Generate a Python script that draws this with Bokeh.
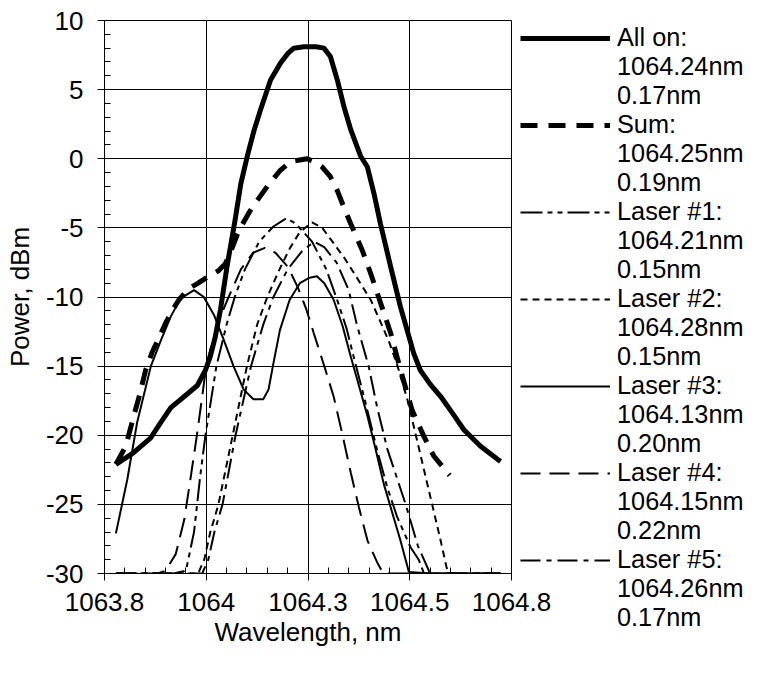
from bokeh.plotting import figure
from bokeh.models import FixedTicker, Legend, LegendItem, Range1d
from bokeh.embed import file_html
from bokeh.resources import INLINE

# ---------------- data ----------------
all_on_x = [1063.828, 1063.87, 1063.913, 1063.94, 1063.963, 1063.996, 1064.028, 1064.048, 1064.060,
            1064.072, 1064.085, 1064.101, 1064.121, 1064.135, 1064.151, 1064.167, 1064.183, 1064.208,
            1064.232, 1064.250, 1064.265, 1064.290, 1064.320, 1064.339, 1064.355, 1064.372, 1064.388,
            1064.405, 1064.429, 1064.446, 1064.462, 1064.478, 1064.503, 1064.527, 1064.560, 1064.576,
            1064.600, 1064.626, 1064.655, 1064.683, 1064.724, 1064.773]
all_on_y = [-22.1, -21.3, -20.2, -19.0, -18.0, -17.2, -16.4, -15.3, -14.3,
            -12.9, -10.9, -7.8, -4.4, -1.8, 0.2, 2.0, 3.5, 5.7,
            6.9, 7.6, 8.0, 8.1, 8.1, 8.0, 7.4, 5.7, 3.8,
            2.1, 0.2, -0.6, -2.5, -4.7, -7.8, -10.7, -14.1, -15.3,
            -16.3, -17.2, -18.4, -19.6, -20.8, -21.9]

sum_x = [1063.828, 1063.852, 1063.872, 1063.887, 1063.901, 1063.917, 1063.933, 1063.950, 1063.968,
         1063.983, 1064.007, 1064.030, 1064.056, 1064.080, 1064.097, 1064.113, 1064.130, 1064.155,
         1064.178, 1064.200, 1064.230, 1064.257, 1064.298, 1064.315, 1064.335, 1064.355, 1064.372,
         1064.388, 1064.405, 1064.433, 1064.454, 1064.478, 1064.503, 1064.523, 1064.544, 1064.556,
         1064.585, 1064.609, 1064.648]
sum_y = [-22.1, -20.8, -18.6, -17.0, -15.3, -14.0, -13.0, -11.9, -10.9,
         -10.2, -9.4, -9.0, -8.5, -8.1, -7.6, -6.5, -5.2, -3.9,
         -2.9, -2.0, -0.9, -0.2, 0.0, -0.2, -0.6, -1.3, -2.3,
         -3.5, -4.7, -6.6, -8.3, -10.4, -12.6, -14.8, -17.0, -18.2,
         -20.1, -21.5, -22.9]

laser1_x = [1063.828, 1063.97, 1064.0, 1064.02, 1064.035, 1064.048, 1064.075, 1064.1, 1064.12, 1064.145,
            1064.18, 1064.215, 1064.247, 1064.27, 1064.31, 1064.345, 1064.375, 1064.395, 1064.412,
            1064.44, 1064.47, 1064.495, 1064.519, 1064.552, 1064.572, 1064.585, 1064.773]
laser1_y = [-30, -30, -29.8, -27.0, -23.0, -20.0, -15.0, -12.0, -10.0, -8.0,
            -6.0, -4.9, -4.3, -4.7, -6.0, -8.0, -10.5, -12.3, -14.3,
            -17.5, -21.1, -23.8, -25.9, -28.1, -29.0, -30, -30]

laser2_x = [1063.828, 1064.03, 1064.045, 1064.06, 1064.08, 1064.115, 1064.15, 1064.175, 1064.2, 1064.23,
            1064.255, 1064.28, 1064.31, 1064.335, 1064.36, 1064.39, 1064.42, 1064.454, 1064.478, 1064.5,
            1064.52, 1064.545, 1064.565, 1064.585, 1064.605, 1064.625, 1064.64, 1064.645, 1064.773]
laser2_y = [-30, -30, -29.0, -27.0, -25.0, -20.0, -15.0, -12.0, -10.0, -8.0,
            -6.5, -5.3, -4.6, -5.0, -6.0, -7.2, -8.6, -10.2, -11.8, -13.3,
            -15.0, -17.5, -20.0, -22.5, -25.0, -27.5, -29.5, -30, -30]

laser3_x = [1063.828, 1063.856, 1063.880, 1063.914, 1063.939, 1063.963, 1063.987, 1064.02, 1064.044,
            1064.069, 1064.093, 1064.117, 1064.142, 1064.166, 1064.19, 1064.203, 1064.215, 1064.231,
            1064.255, 1064.28, 1064.304, 1064.322, 1064.34, 1064.363, 1064.385, 1064.405, 1064.425,
            1064.446, 1064.466, 1064.486, 1064.507, 1064.527, 1064.548, 1064.6, 1064.773]
laser3_y = [-27.1, -23.2, -19.1, -15.0, -13.1, -11.4, -10.1, -9.5, -10.0,
            -11.3, -13.1, -15.0, -16.7, -17.4, -17.4, -16.7, -14.8, -12.4,
            -10.2, -9.0, -8.6, -8.5, -9.0, -10.2, -12.1, -14.3, -16.4,
            -18.6, -21.0, -23.5, -25.6, -27.6, -29.9, -30, -30]

laser4_x = [1063.828, 1063.93, 1063.95, 1063.975, 1063.996, 1064.012, 1064.027, 1064.04, 1064.05,
            1064.065, 1064.085, 1064.105, 1064.135, 1064.165, 1064.194, 1064.22, 1064.25, 1064.275,
            1064.296, 1064.314, 1064.34, 1064.363, 1064.385, 1064.405, 1064.425, 1064.446, 1064.47,
            1064.485, 1064.773]
laser4_y = [-30, -30, -29.8, -28.6, -26.1, -23.0, -20.0, -17.2, -15.0,
            -13.2, -11.4, -10.0, -8.0, -6.8, -6.45, -6.8, -7.8, -9.3,
            -10.9, -12.6, -15.0, -17.2, -20.0, -22.7, -25.2, -27.6, -29.2,
            -30, -30]

laser5_x = [1063.828, 1064.04, 1064.055, 1064.07, 1064.09, 1064.122, 1064.16, 1064.19, 1064.215, 1064.25,
            1064.285, 1064.315, 1064.34, 1064.37, 1064.4, 1064.42, 1064.449, 1064.47, 1064.495, 1064.54,
            1064.57, 1064.6, 1064.773]
laser5_y = [-30, -30, -29.0, -27.0, -25.0, -20.0, -15.0, -12.0, -10.0, -8.0,
            -6.7, -6.0, -6.4, -7.5, -9.5, -12.0, -15.0, -18.0, -21.0, -25.0,
            -28.0, -30, -30]

series_names = ["All on:", "Sum:", "Laser #1:", "Laser #2:", "Laser #3:", "Laser #4:", "Laser #5:"]
series_centers = ["1064.24nm", "1064.25nm", "1064.21nm", "1064.28nm", "1064.13nm", "1064.15nm", "1064.26nm"]
series_widths = ["0.17nm", "0.19nm", "0.15nm", "0.15nm", "0.20nm", "0.22nm", "0.17nm"]

x_ticks = [1063.8, 1064.05, 1064.3, 1064.55, 1064.8]
x_tick_labels = ["1063.8", "1064", "1064.3", "1064.5", "1064.8"]
y_ticks = [-30, -25, -20, -15, -10, -5, 0, 5, 10]
y_tick_labels = ["-30", "-25", "-20", "-15", "-10", "-5", "0", "5", "10"]

# ---------------- figure ----------------
FONT = "Liberation Sans"
FS = "26px"

p = figure(frame_width=407, frame_height=553, x_range=Range1d(1063.8, 1064.8), y_range=Range1d(-30, 10),
           output_backend="svg", toolbar_location=None,
           min_border_left=104, min_border_right=0, min_border_top=20, min_border_bottom=80)
p.background_fill_color = "white"
p.border_fill_color = "white"
p.outline_line_color = "black"
p.outline_line_width = 1

x_minor = [round(1063.8 + 0.05 * i, 3) for i in range(21)]
y_minor = list(range(-30, 11))
p.xaxis.ticker = FixedTicker(ticks=x_ticks, minor_ticks=x_minor)
p.yaxis.ticker = FixedTicker(ticks=y_ticks, minor_ticks=y_minor)
p.xaxis.major_label_overrides = {t: l for t, l in zip(x_ticks, x_tick_labels)}
p.yaxis.major_label_overrides = {t: l for t, l in zip(y_ticks, y_tick_labels)}
p.xgrid.ticker = FixedTicker(ticks=x_ticks)
p.ygrid.ticker = FixedTicker(ticks=y_ticks)
for g in (p.xgrid, p.ygrid):
    g.grid_line_color = "black"
    g.grid_line_width = 1
    g.grid_line_alpha = 1

p.xaxis.axis_label = "Wavelength, nm"
p.yaxis.axis_label = "Power, dBm"
for ax in (p.xaxis, p.yaxis):
    ax.axis_line_color = "black"
    ax.axis_line_width = 1
    ax.major_tick_line_color = "black"
    ax.minor_tick_line_color = "black"
    ax.major_tick_out = 7
    ax.major_tick_in = 0
    ax.minor_tick_in = 6
    ax.minor_tick_out = 0
    ax.major_label_text_font = FONT
    ax.major_label_text_font_size = FS
    ax.major_label_text_color = "black"
    ax.axis_label_text_font = FONT
    ax.axis_label_text_font_size = FS
    ax.axis_label_text_font_style = "normal"
    ax.axis_label_text_color = "black"
p.yaxis.major_label_standoff = 14
p.yaxis.axis_label_standoff = 8
p.xaxis.major_label_standoff = 12
p.xaxis.axis_label_standoff = 3

# ---------------- lines ----------------
r_l4 = p.line(laser4_x, laser4_y, line_color="black", line_width=2, line_dash="20 9")
r_l1 = p.line(laser1_x, laser1_y, line_color="black", line_width=2, line_dash="22 5 5 5 5 5")
r_l5 = p.line(laser5_x, laser5_y, line_color="black", line_width=2, line_dash="20 6 5 6")
r_l2 = p.line(laser2_x, laser2_y, line_color="black", line_width=2, line_dash="7 5")
r_l3 = p.line(laser3_x, laser3_y, line_color="black", line_width=2)
r_sum = p.line(sum_x, sum_y, line_color="black", line_width=5, line_dash="17 11")
r_all = p.line(all_on_x, all_on_y, line_color="black", line_width=5, line_join="round")

blank = p.line([], [], line_alpha=0)

items = []
for r, n, c, w in zip([r_all, r_sum, r_l1, r_l2, r_l3, r_l4, r_l5], series_names, series_centers, series_widths):
    items.append(LegendItem(label=n, renderers=[r]))
    items.append(LegendItem(label=c, renderers=[blank]))
    items.append(LegendItem(label=w, renderers=[blank]))

legend = Legend(items=items, location=(9, -59), padding=0, margin=0, spacing=0,
                glyph_width=90, glyph_height=20, label_height=20, label_standoff=7,
                label_text_font=FONT, label_text_font_size="25.3px", label_text_color="black",
                border_line_color=None, background_fill_alpha=0)
p.add_layout(legend, "right")

open("out.html", "w").write(file_html(p, INLINE))
